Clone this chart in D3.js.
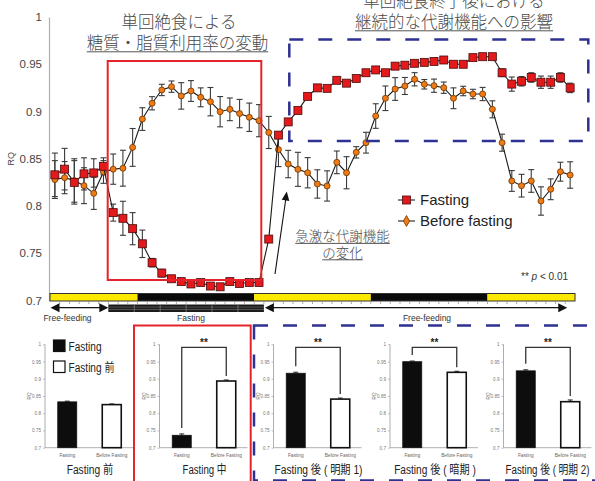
<!DOCTYPE html>
<html><head><meta charset="utf-8">
<script src="https://cdn.jsdelivr.net/npm/d3@7/dist/d3.min.js"></script>
<style>html,body{margin:0;padding:0;background:#fff;} svg{display:block;}</style>
</head><body>
<svg id="fig" width="595" height="481"></svg>
<script>
// ---- hourly respiratory quotient (RQ), mean and error ----
const fastingRQ = [0.833,0.839,0.825,0.834,0.835,0.842,0.793,0.787,0.776,0.760,
  0.740,0.729,0.723,0.720,0.7175,0.719,0.7153,0.7145,0.720,0.718,
  0.719,0.719,0.765,0.875,0.889,0.901,0.916,0.925,0.9245,0.933,
  0.930,0.935,0.941,0.944,0.941,0.948,0.949,0.951,0.952,0.953,
  0.9545,0.950,0.950,0.957,0.958,0.958,0.941,0.929,0.932,0.936,
  0.931,0.931,0.936,0.925];
const fastingErr = [0.023,0.022,0.023,0.017,0.015,0.009,0.009,0.018,0.017,0.0145,
  0.0045,0.004,0.003,0.003,0.003,0.003,0.003,0.003,0.003,0.003,
  0.003,0.003,0.003,0.003,0.003,0.003,0.003,0.003,0.003,0.003,
  0.003,0.003,0.003,0.003,0.003,0.003,0.003,0.003,0.003,0.003,
  0.003,0.003,0.003,0.003,0.003,0.003,0.004,0.0075,0.005,0.005,
  0.0065,0.0065,0.005,0.005];
const beforeRQ = [0.828,0.830,0.827,0.8215,0.8134,0.836,0.839,0.840,0.862,0.892,
  0.9087,0.9228,0.9263,0.9165,0.9217,0.915,0.9104,0.8998,0.9023,0.8978,
  0.8939,0.8903,0.8778,0.8597,0.8444,0.8388,0.8352,0.8233,0.8212,0.8462,
  0.8352,0.8568,0.867,0.8952,0.914,0.9238,0.927,0.9341,0.9288,0.9273,
  0.9252,0.914,0.9217,0.9185,0.9185,0.9023,0.867,0.8265,0.8215,0.8265,
  0.8053,0.8177,0.8363,0.8328];
const beforeErr = [0.02,0.017,0.023,0.019,0.017,0.012,0.016,0.019,0.02,0.012,
  0.007,0.006,0.006,0.014,0.011,0.010,0.015,0.016,0.012,0.015,
  0.015,0.017,0.017,0.018,0.0145,0.018,0.016,0.015,0.016,0.012,
  0.017,0.006,0.011,0.013,0.013,0.012,0.009,0.007,0.005,0.007,
  0.006,0.011,0.005,0.005,0.007,0.009,0.009,0.011,0.012,0.012,
  0.015,0.011,0.010,0.014];
const seriesNames = ["Fasting", "Before fasting"];
const yTicks = [0.7, 0.75, 0.8, 0.85, 0.9, 0.95, 1];
const yTickLabels = ["0.7", "0.75", "0.8", "0.85", "0.9", "0.95", "1"];

// light / dark phases (hours) and the fasting window
const phaseStart = [0, 9, 21, 33, 45];
const phaseEnd = [9, 21, 33, 45, 54];
const phaseDark = [false, true, false, true, false];
const fastStart = 6, fastEnd = 22;
const periodLabels = ["Free-feeding", "Fasting", "Free-feeding"];

// ---- period means shown as bar charts ----
const panelTitles = ["Fasting 前", "Fasting 中", "Fasting 後 ( 明期 1)", "Fasting 後 ( 暗期 )", "Fasting 後 ( 明期 2)"];
const barGroups = ["Fasting", "Before Fasting"];
const barFasting = [0.833, 0.736, 0.916, 0.9495, 0.923];
const barBefore = [0.825, 0.8935, 0.841, 0.9187, 0.8335];
const barFastingErr = [0.002, 0.004, 0.003, 0.002, 0.003];
const barBeforeErr = [0.002, 0.003, 0.003, 0.003, 0.005];
const barSig = ["", "**", "**", "**", "**"];
const barLegend = ["Fasting", "Fasting 前"];

// ---------------------------------------------------------------
const LATIN = "'Liberation Sans', Arial, Helvetica, sans-serif";
const MIX = "'Liberation Sans', 'Noto Sans CJK JP', sans-serif";
const JP = "'Noto Sans CJK JP', 'Noto Sans CJK SC', sans-serif";
const RED = "#e5232a", NAVY = "#2e3192";

const svg = d3.select("#fig");

function arrowHead(g, tx, ty, dx, dy, len, hw, fill) {
  const n = Math.hypot(dx, dy); dx /= n; dy /= n;
  const bx = tx - dx * len, by = ty - dy * len;
  g.append("path")
    .attr("d", `M${tx},${ty}L${bx - dy * hw},${by + dx * hw}L${bx + dy * hw},${by - dx * hw}Z`)
    .attr("fill", fill || "#111");
}

function underline(g, textSel, yLine, color) {
  const b = textSel.node().getBBox();
  g.append("line").attr("x1", b.x).attr("x2", b.x + b.width)
    .attr("y1", yLine).attr("y2", yLine)
    .attr("stroke", color).attr("stroke-width", 1);
}

// ================= main time course =================
const x = d3.scaleLinear().domain([0, 54]).range([50, 575]);
const y = d3.scaleLinear().domain([0.7, 1]).range([300.5, 17]);
const main = svg.append("g");

const yAxis = main.append("g").attr("transform", "translate(49,0)")
  .call(d3.axisLeft(y).tickValues(yTicks).tickFormat((d, i) => yTickLabels[i]).tickSize(0).tickPadding(7));
yAxis.select(".domain").attr("stroke", "#b0b0b0").attr("stroke-width", 1.2);
yAxis.selectAll("text").attr("font-family", LATIN).attr("font-size", 11.5).attr("fill", "#444");

main.append("text").attr("transform", `translate(14,${y(0.85)}) rotate(-90)`)
  .attr("text-anchor", "middle").attr("font-family", LATIN).attr("font-size", 9).attr("fill", "#444").text("RQ");

// light/dark bar along the time axis
const barTop = 293.5, barH = 7.5;
const phases = phaseStart.map((s, i) => ({ s, e: phaseEnd[i], dark: phaseDark[i] }));
main.append("g").selectAll("rect").data(phases).join("rect")
  .attr("x", d => x(d.s)).attr("width", d => x(d.e) - x(d.s))
  .attr("y", barTop).attr("height", barH)
  .attr("fill", d => d.dark ? "#0a0a0a" : "#fde800");
main.append("rect").attr("x", x(0)).attr("y", barTop).attr("width", x(54) - x(0)).attr("height", barH)
  .attr("fill", "none").attr("stroke", "#333").attr("stroke-width", 1);
main.append("g").selectAll("line").data(d3.range(1, 54)).join("line")
  .attr("x1", d => x(d)).attr("x2", d => x(d))
  .attr("y1", barTop + barH).attr("y2", barTop + barH + 3)
  .attr("stroke", "#888").attr("stroke-width", 0.7);

// fasting window bar
const fbY = 304.5, fbH = 7.5;
main.append("rect").attr("x", x(fastStart)).attr("width", x(fastEnd) - x(fastStart))
  .attr("y", fbY).attr("height", fbH).attr("fill", "#1c1c1c");
[fbY + 2.6, fbY + 5].forEach(yy => main.append("line")
  .attr("x1", x(fastStart)).attr("x2", x(fastEnd)).attr("y1", yy).attr("y2", yy)
  .attr("stroke", "#777").attr("stroke-width", 0.6));
d3.range(1, 6).forEach(k => {
  const xx = x(fastStart) + (x(fastEnd) - x(fastStart)) * k / 6;
  main.append("line").attr("x1", xx).attr("x2", xx).attr("y1", fbY).attr("y2", fbY + fbH)
    .attr("stroke", "#888").attr("stroke-width", 0.7);
});

// period arrows
const arY = 307.7;
function doubleArrow(x0, x1) {
  main.append("line").attr("x1", x0 + 4).attr("x2", x1 - 4).attr("y1", arY).attr("y2", arY)
    .attr("stroke", "#111").attr("stroke-width", 1.2);
  arrowHead(main, x0, arY, -1, 0, 9, 4.5);
  arrowHead(main, x1, arY, 1, 0, 9, 4.5);
}
doubleArrow(x(0) + 0.5, x(fastStart));
doubleArrow(x(fastEnd) + 1, x(53.2));
const labX = [67.5, 191, 427];
periodLabels.forEach((t, i) => main.append("text").attr("x", labX[i]).attr("y", 321)
  .attr("text-anchor", "middle").attr("font-family", LATIN).attr("font-size", 8.5).attr("fill", "#333").text(t));

// error bars
function errBars(vals, errs) {
  const g = main.append("g").attr("stroke", "#3a3a3a").attr("stroke-width", 1.1);
  vals.forEach((v, i) => {
    const cx = x(i + 0.5), y0 = y(v - errs[i]), y1 = y(v + errs[i]);
    g.append("line").attr("x1", cx).attr("x2", cx).attr("y1", y0).attr("y2", y1);
    g.append("line").attr("x1", cx - 3).attr("x2", cx + 3).attr("y1", y0).attr("y2", y0);
    g.append("line").attr("x1", cx - 3).attr("x2", cx + 3).attr("y1", y1).attr("y2", y1);
  });
}
errBars(beforeRQ, beforeErr);
errBars(fastingRQ, fastingErr);

const line = d3.line().x((d, i) => x(i + 0.5)).y(d => y(d));
main.append("path").datum(beforeRQ).attr("d", line).attr("fill", "none").attr("stroke", "#1a1a1a").attr("stroke-width", 1.1);
main.append("g").selectAll("circle").data(beforeRQ).join("circle")
  .attr("cx", (d, i) => x(i + 0.5)).attr("cy", d => y(d)).attr("r", 3)
  .attr("fill", "#f07a14").attr("stroke", "#6b3300").attr("stroke-width", 0.8);
main.append("path").datum(fastingRQ).attr("d", line).attr("fill", "none").attr("stroke", "#1a1a1a").attr("stroke-width", 1.1);
main.append("g").selectAll("rect").data(fastingRQ).join("rect")
  .attr("x", (d, i) => x(i + 0.5) - 4).attr("y", d => y(d) - 4).attr("width", 8).attr("height", 8)
  .attr("fill", "#e3191c").attr("stroke", "#4a0c0c").attr("stroke-width", 0.8);

// legend
const lg = main.append("g").attr("transform", "translate(398,0)");
[200, 221].forEach((ly, k) => {
  lg.append("line").attr("x1", 0).attr("x2", 17).attr("y1", ly).attr("y2", ly).attr("stroke", "#222").attr("stroke-width", 1.1);
  if (k === 0) lg.append("rect").attr("x", 4.5).attr("y", ly - 4).attr("width", 8).attr("height", 8)
    .attr("fill", "#e3191c").attr("stroke", "#4a0c0c").attr("stroke-width", 0.8);
  else lg.append("path").attr("transform", `translate(8.5,${ly})`).attr("d", d3.symbol(d3.symbolDiamond, 34)())
    .attr("fill", "#f07a14").attr("stroke", "#6b3300").attr("stroke-width", 0.8);
  lg.append("text").attr("x", 22).attr("y", ly + 5.3).attr("font-family", LATIN).attr("font-size", 15)
    .attr("fill", "#222").text(seriesNames[k]);
});

// significance note
const pn = main.append("text").attr("x", 568).attr("y", 279.5).attr("text-anchor", "end")
  .attr("font-family", LATIN).attr("font-size", 10).attr("fill", "#333");
pn.append("tspan").text("** ");
pn.append("tspan").attr("font-style", "italic").text("p");
pn.append("tspan").text(" < 0.01");

// highlight boxes
main.append("rect").attr("x", 107.7).attr("y", 61).attr("width", 153.6).attr("height", 219)
  .attr("fill", "none").attr("stroke", RED).attr("stroke-width", 2);
main.append("rect").attr("x", 289.3).attr("y", 39.5).attr("width", 299).attr("height", 101.5)
  .attr("fill", "none").attr("stroke", NAVY).attr("stroke-width", 2.5).attr("stroke-dasharray", "14,15");

// headings
const headStyle = sel => sel.attr("text-anchor", "middle").attr("font-family", JP)
  .attr("font-size", 16.5).attr("font-weight", 300).attr("fill", "#4a4a4a");
main.append("text").attr("x", 179).attr("y", 28).call(headStyle).text("単回絶食による");
const h2 = main.append("text").attr("x", 177.5).attr("y", 48.5).call(headStyle).text("糖質・脂質利用率の変動");
underline(main, h2, 51.8, "#555");
main.append("text").attr("x", 454).attr("y", 6.5).call(headStyle).text("単回絶食終了後における");
const h4 = main.append("text").attr("x", 454).attr("y", 27.5).call(headStyle).text("継続的な代謝機能への影響");
underline(main, h4, 30.8, "#555");

// annotation of the rapid change
main.append("line").attr("x1", 275).attr("y1", 274).attr("x2", 285.8).attr("y2", 199)
  .attr("stroke", "#111").attr("stroke-width", 1.1);
arrowHead(main, 286.8, 191.5, 11.8, -82.5, 9, 3.8);
const noteStyle = sel => sel.attr("text-anchor", "middle").attr("font-family", JP)
  .attr("font-size", 13.5).attr("font-weight", 300).attr("fill", "#4a4a4a");
const a1 = main.append("text").attr("x", 342.5).attr("y", 241).call(noteStyle).text("急激な代謝機能");
underline(main, a1, 243.4, "#555");
const a2 = main.append("text").attr("x", 342.5).attr("y", 257.5).call(noteStyle).text("の変化");
underline(main, a2, 259.8, "#555");

// ================= period bar charts =================
const panelAxisX = [45, 159.5, 273.5, 390, 503.5];
const titleLen = [46.7, 44, 88, 81.7, 84];
const yb = d3.scaleLinear().domain([0.7, 1]).range([447.7, 344.3]);
const bx = d3.scalePoint().domain(barGroups).range([0, 89]).padding(0.5);
const bw = 19;

panelTitles.forEach((title, p) => {
  const g = svg.append("g").attr("transform", `translate(${panelAxisX[p]},0)`);
  const ax = g.append("g").call(d3.axisLeft(yb).tickValues(yTicks).tickFormat((d, i) => yTickLabels[i]).tickSize(2).tickPadding(2));
  ax.select(".domain").remove();
  ax.selectAll("line").attr("stroke", "#999").attr("stroke-width", 0.6);
  ax.selectAll("text").attr("font-family", LATIN).attr("font-size", 4.6).attr("fill", "#777");
  g.append("line").attr("x1", 0).attr("x2", 0).attr("y1", yb(1)).attr("y2", yb(0.7)).attr("stroke", "#999").attr("stroke-width", 0.8);
  g.append("line").attr("x1", 0).attr("x2", 88).attr("y1", yb(0.7)).attr("y2", yb(0.7)).attr("stroke", "#999").attr("stroke-width", 0.8);
  g.append("text").attr("transform", `translate(-14,${yb(0.85)}) rotate(-90)`).attr("text-anchor", "middle")
    .attr("font-family", LATIN).attr("font-size", 4.6).attr("fill", "#777").text("RQ");

  const vals = [barFasting[p], barBefore[p]];
  const errs = [barFastingErr[p], barBeforeErr[p]];
  barGroups.forEach((grp, k) => {
    const cx = bx(grp);
    g.append("line").attr("x1", cx).attr("x2", cx).attr("y1", yb(vals[k])).attr("y2", yb(vals[k] + errs[k]))
      .attr("stroke", "#111").attr("stroke-width", 0.9);
    g.append("line").attr("x1", cx - 2.5).attr("x2", cx + 2.5).attr("y1", yb(vals[k] + errs[k])).attr("y2", yb(vals[k] + errs[k]))
      .attr("stroke", "#111").attr("stroke-width", 0.9);
    g.append("rect").attr("x", cx - bw / 2).attr("width", bw)
      .attr("y", yb(vals[k])).attr("height", yb(0.7) - yb(vals[k]))
      .attr("fill", k === 0 ? "#0d0d0d" : "#fff").attr("stroke", "#111").attr("stroke-width", k === 0 ? 0.8 : 1.6);
    g.append("text").attr("x", cx).attr("y", 456.5).attr("text-anchor", "middle")
      .attr("font-family", LATIN).attr("font-size", 4.8).attr("fill", "#666").text(grp);
  });

  if (barSig[p]) {
    const xl = bx(barGroups[0]), xr = bx(barGroups[1]), top = 347.3;
    const yl = yb(vals[0] + errs[0]) - 6, yr = yb(vals[1] + errs[1]) - 4;
    g.append("path").attr("d", `M${xl},${yl}V${top}H${xr}V${yr}`)
      .attr("fill", "none").attr("stroke", "#333").attr("stroke-width", 1.3);
    g.append("text").attr("x", (xl + xr) / 2).attr("y", 346).attr("text-anchor", "middle")
      .attr("font-family", LATIN).attr("font-size", 10).attr("font-weight", "bold").attr("fill", "#222").text(barSig[p]);
  }

  g.append("text").attr("x", p === 4 ? 44 : 45).attr("y", 473.5).attr("text-anchor", "middle")
    .attr("font-family", MIX).attr("font-size", 12.5).attr("fill", "#222")
    .attr("textLength", titleLen[p]).attr("lengthAdjust", "spacingAndGlyphs").text(title);
});

// bar legend
const bl = svg.append("g");
barLegend.forEach((t, k) => {
  const ly = 340 + k * 21;
  bl.append("rect").attr("x", 53.5).attr("y", ly).attr("width", 11.5).attr("height", 11.5)
    .attr("fill", k === 0 ? "#0d0d0d" : "#fff").attr("stroke", "#111").attr("stroke-width", 1.2);
  bl.append("text").attr("x", 68.5).attr("y", ly + 10.5).attr("font-family", MIX).attr("font-size", 12)
    .attr("fill", "#222").attr("textLength", k === 0 ? 33 : 46).attr("lengthAdjust", "spacingAndGlyphs").text(t);
});

// highlight boxes around the period bar charts
svg.append("rect").attr("x", 134).attr("y", 325.5).attr("width", 116.7).attr("height", 160)
  .attr("fill", "none").attr("stroke", RED).attr("stroke-width", 2);
svg.append("rect").attr("x", 254).attr("y", 325.5).attr("width", 345).attr("height", 155)
  .attr("fill", "none").attr("stroke", NAVY).attr("stroke-width", 2.5).attr("stroke-dasharray", "14,15");
</script>
</body></html>
